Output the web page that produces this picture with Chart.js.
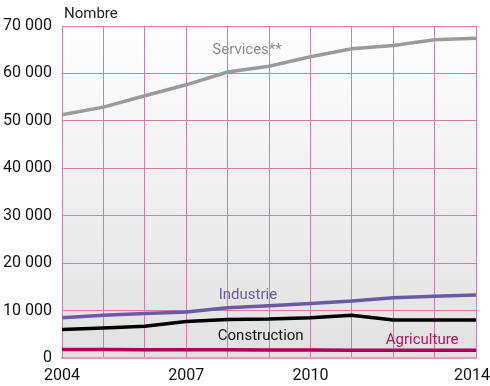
<!DOCTYPE html>
<html><head><meta charset="utf-8">
<script src="https://cdn.jsdelivr.net/npm/chart.js@4/dist/chart.umd.min.js"></script>
<style>html,body{margin:0;padding:0;background:#fff}#wrap{width:490px;height:386px}</style>
</head><body><div id="wrap"><canvas id="c" width="490" height="386"></canvas></div>
<script>
const years = ["2004","2005","2006","2007","2008","2009","2010","2011","2012","2013","2014"];
const shownYears = ["2004","2007","2010","2014"];
const services = [51300,52900,55300,57600,60300,61500,63500,65200,65900,67100,67400];
const industrie = [8500,9000,9400,9700,10600,11000,11500,12000,12700,13000,13300];
const construction = [6000,6300,6700,7700,8100,8200,8500,9000,8000,8000,8000];
const agriculture = [1800,1780,1760,1750,1720,1700,1680,1660,1650,1640,1630];
const yTicks = [0,10000,20000,30000,40000,50000,60000,70000];

const FONT = "Roboto,'Liberation Sans',sans-serif";

const labelsPlugin = {
  id:'labels',
  beforeDraw(chart){
    const {ctx, chartArea:a} = chart;
    const g = ctx.createLinearGradient(0,a.top,0,a.bottom);
    g.addColorStop(0,'#fefefe'); g.addColorStop(1,'#e1e1e2');
    ctx.save(); ctx.fillStyle=g; ctx.fillRect(a.left,a.top,a.right-a.left,a.bottom-a.top); ctx.restore();
  },
  afterDraw(chart){
    const {ctx} = chart;
    const x = chart.scales.x, y = chart.scales.y;
    ctx.save();
    ctx.font = "15px " + FONT;
    ctx.textBaseline='middle'; ctx.textAlign='center';
    const put=(t,xi,yv,c)=>{ctx.fillStyle=c;ctx.fillText(t,x.getPixelForValue(xi),y.getPixelForValue(yv));};
    put('Services**',4.47,64800,'#8c8c8c');
    put('Industrie',4.49,13300,'#6a5aa6');
    put('Construction',4.8,4600,'#111111');
    put('Agriculture',8.7,3750,'#b0145e');
    ctx.textAlign='left';
    ctx.fillStyle='#222';
    ctx.fillText('Nombre', 64, 14);
    ctx.restore();
  }
};

new Chart(document.getElementById('c'),{
  type:'line',
  data:{labels:years,datasets:[
    {data:services,borderColor:'#9a9a9a',borderWidth:3.5,pointRadius:0,tension:0},
    {data:industrie,borderColor:'#6a5aa6',borderWidth:3.5,pointRadius:0,tension:0},
    {data:construction,borderColor:'#000000',borderWidth:3.5,pointRadius:0,tension:0},
    {data:agriculture,borderColor:'#a8005a',borderWidth:3.5,pointRadius:0,tension:0}
  ]},
  options:{
    responsive:false,animation:false,
    layout:{padding:{top:26,right:0,left:0,bottom:0}},
    plugins:{legend:{display:false},tooltip:{enabled:false}},
    scales:{
      x:{
        afterFit:(s)=>{s.height=28;s.paddingRight=14;s.paddingLeft=0;},
        grid:{color:'#cc80a3',lineWidth:1,drawTicks:false},
        border:{color:'#d9a0b8',width:2},
        ticks:{autoSkip:false,maxRotation:0,padding:8,color:'#111',font:{family:FONT,size:16},
          callback:(v,i)=>shownYears.includes(years[i])?(i===years.length-1?years[i]+'  ':years[i]):''}
      },
      y:{
        min:0,max:70000,
        afterFit:(s)=>{s.width=62;},
        afterBuildTicks:(s)=>{s.ticks=yTicks.map(v=>({value:v}));},
        grid:{color:'#cc80a3',lineWidth:1,drawTicks:false},
        border:{color:'#cc80a3'},
        ticks:{padding:10,color:'#111',font:{family:FONT,size:16},
          callback:(v)=>v===0?'0':String(v/1000)+' 000'}
      }
    }
  },
  plugins:[labelsPlugin]
});
</script></body></html>
